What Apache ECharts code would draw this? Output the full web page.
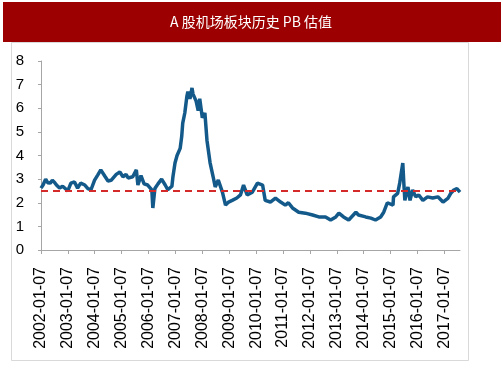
<!DOCTYPE html>
<html>
<head>
<meta charset="utf-8">
<title>A 股机场板块历史 PB 估值</title>
<script src="https://cdn.jsdelivr.net/npm/echarts@6/dist/echarts.min.js"></script>
<style>
  html, body { margin: 0; padding: 0; background: #fff; }
  #chart { width: 503px; height: 378px; }
</style>
</head>
<body>
<div id="chart"></div>
<script>
(function () {

	// 周度日期（按图读取的采样点）
	var dates = [
		'2002-01-07','2002-02-04','2002-03-11','2002-04-08','2002-05-13','2002-06-10','2002-07-08','2002-08-05',
		'2002-09-16','2002-10-28','2002-12-02','2003-01-06','2003-02-17','2003-04-07','2003-05-19','2003-06-30',
		'2003-08-25','2003-10-06','2003-11-17','2004-01-05','2004-02-16','2004-03-29','2004-05-24','2004-07-05',
		'2004-08-16','2004-10-25','2004-12-13','2005-01-24','2005-03-07','2005-04-04','2005-06-06','2005-07-25',
		'2005-08-15','2005-09-26','2005-11-07','2005-12-26','2006-02-20','2006-03-06','2006-04-03','2006-05-15',
		'2006-07-03','2006-08-21','2006-09-25','2006-11-20','2006-12-04','2007-01-01','2007-01-29','2007-03-12',
		'2007-04-02','2007-04-16','2007-05-14','2007-06-11','2007-06-25','2007-07-23','2007-08-20','2007-09-03',
		'2007-10-15','2007-11-12','2007-12-03','2008-01-07','2008-02-11','2008-03-10','2008-04-21','2008-06-02',
		'2008-06-30','2008-08-11','2008-10-06','2008-11-17','2008-12-29','2009-02-16','2009-04-20','2009-06-08',
		'2009-07-20','2009-09-07','2009-11-16','2010-01-25','2010-04-05','2010-05-10','2010-07-19','2010-09-27',
		'2010-12-06','2011-02-07','2011-03-21','2011-05-16','2011-08-08','2011-11-07','2012-02-13','2012-05-07',
		'2012-08-06','2012-10-15','2012-12-24','2013-02-04','2013-04-08','2013-06-17','2013-09-23','2013-10-28',
		'2014-02-03','2014-04-14','2014-06-16','2014-08-25','2014-10-06','2014-11-24','2014-12-08','2015-02-09',
		'2015-02-16','2015-04-13','2015-05-11','2015-06-22','2015-07-06','2015-07-20','2015-08-31','2015-09-28',
		'2015-11-02','2015-12-14','2016-01-25','2016-03-21','2016-05-23','2016-08-01','2016-10-10','2016-12-19',
		'2017-02-27','2017-04-03','2017-05-15','2017-06-26','2017-08-07'
	];

	// PB 值
	var pb = [
		2.62, 2.75, 3.00, 2.85, 2.83, 2.95, 2.87, 2.75,
		2.62, 2.70, 2.60, 2.50, 2.83, 2.88, 2.62, 2.83,
		2.75, 2.60, 2.55, 2.96, 3.17, 3.39, 3.12, 2.92,
		2.95, 3.20, 3.30, 3.10, 3.20, 3.05, 3.10, 3.39,
		2.75, 3.15, 2.80, 2.75, 2.54, 1.78, 2.60, 2.80,
		3.00, 2.75, 2.55, 2.70, 3.10, 3.68, 4.00, 4.30,
		4.80, 5.37, 5.80, 6.50, 6.70, 6.40, 6.86, 6.60,
		6.30, 5.90, 6.40, 5.60, 5.80, 4.65, 3.70, 3.10,
		2.67, 2.96, 2.45, 1.90, 2.03, 2.10, 2.20, 2.33,
		2.75, 2.33, 2.45, 2.83, 2.75, 2.10, 2.03, 2.20,
		2.03, 1.90, 2.00, 1.78, 1.60, 1.56, 1.48, 1.40,
		1.40, 1.27, 1.40, 1.56, 1.40, 1.27, 1.60, 1.48,
		1.40, 1.35, 1.27, 1.40, 1.60, 2.00, 2.03, 1.90,
		2.25, 2.40, 2.83, 3.68, 2.83, 2.10, 2.67, 2.10,
		2.54, 2.25, 2.33, 2.10, 2.25, 2.20, 2.25, 2.03,
		2.20, 2.40, 2.54, 2.60, 2.45
	];

	// 横轴刻度标签
	var tickLabels = [
		'2002-01-07','2003-01-07','2004-01-07','2005-01-07','2006-01-07','2007-01-07','2008-01-07','2009-01-07',
		'2010-01-07','2011-01-07','2012-01-07','2013-01-07','2014-01-07','2015-01-07','2016-01-07','2017-01-07'
	];

	// 均值参考线
	var pbMean = 2.5;

	function ts(s) {
		return +echarts.number.parseDate(s);
	}

	var seriesData = [];
	for (var i = 0; i < dates.length; i++) {
		seriesData.push([ts(dates[i]), pb[i]]);
	}
	var tickValues = tickLabels.map(ts);

	var option = {
		backgroundColor: '#fff',
		animation: false,
		graphic: [
			{
				type: 'rect',
				shape: { x: 11.5, y: 42.5, width: 457, height: 318 },
				style: { fill: 'none', stroke: '#d9d9d9', lineWidth: 1 },
				z: -1
			},
			{
				type: 'rect',
				shape: { x: 3, y: 2, width: 498, height: 40 },
				style: { fill: '#9c0000' }
			},
			{
				type: 'text',
				x: 251,
				y: 22,
				style: {
					text: 'A 股机场板块历史 PB 估值',
					fill: '#fff',
					fontSize: 14,
					fontFamily: 'Noto Sans CJK SC',
					align: 'center',
					verticalAlign: 'middle'
				}
			}
		],
		grid: {
			left: 41,
			top: 61,
			right: 43,
			bottom: 128,
			containLabel: false
		},
		xAxis: {
			type: 'value',
			min: ts(dates[0]),
			max: ts(dates[dates.length - 1]),
			axisLine: { lineStyle: { color: '#a6a6a6', width: 1 } },
			axisTick: {
				show: true,
				length: 4,
				customValues: tickValues,
				lineStyle: { color: '#a6a6a6' }
			},
			axisLabel: {
				customValues: tickValues,
				rotate: 90,
				margin: 17,
				fontSize: 16,
				color: '#000',
				fontFamily: 'Liberation Sans',
				formatter: function (v) {
					return echarts.time.format(v, '{yyyy}-{MM}-{dd}', false);
				}
			},
			splitLine: { show: false }
		},
		yAxis: {
			type: 'value',
			min: 0,
			max: 8,
			interval: 1,
			axisLine: { show: true, lineStyle: { color: '#a6a6a6', width: 1 } },
			axisTick: { show: true, length: 3, lineStyle: { color: '#a6a6a6' } },
			axisLabel: {
				fontSize: 15,
				color: '#000',
				margin: 17,
				fontFamily: 'Liberation Sans'
			},
			splitLine: { show: false }
		},
		series: [
			{
				type: 'line',
				data: seriesData,
				showSymbol: false,
				lineStyle: { color: '#135a8a', width: 3.5 },
				itemStyle: { color: '#135a8a' },
				markLine: {
					silent: true,
					symbol: 'none',
					label: { show: false },
					lineStyle: { color: '#d42a2a', type: [7, 5], width: 2 },
					data: [{ yAxis: pbMean }]
				}
			}
		]
	};

	var chart = echarts.init(document.getElementById('chart'));
	chart.setOption(option);

})();
</script>
</body>
</html>
